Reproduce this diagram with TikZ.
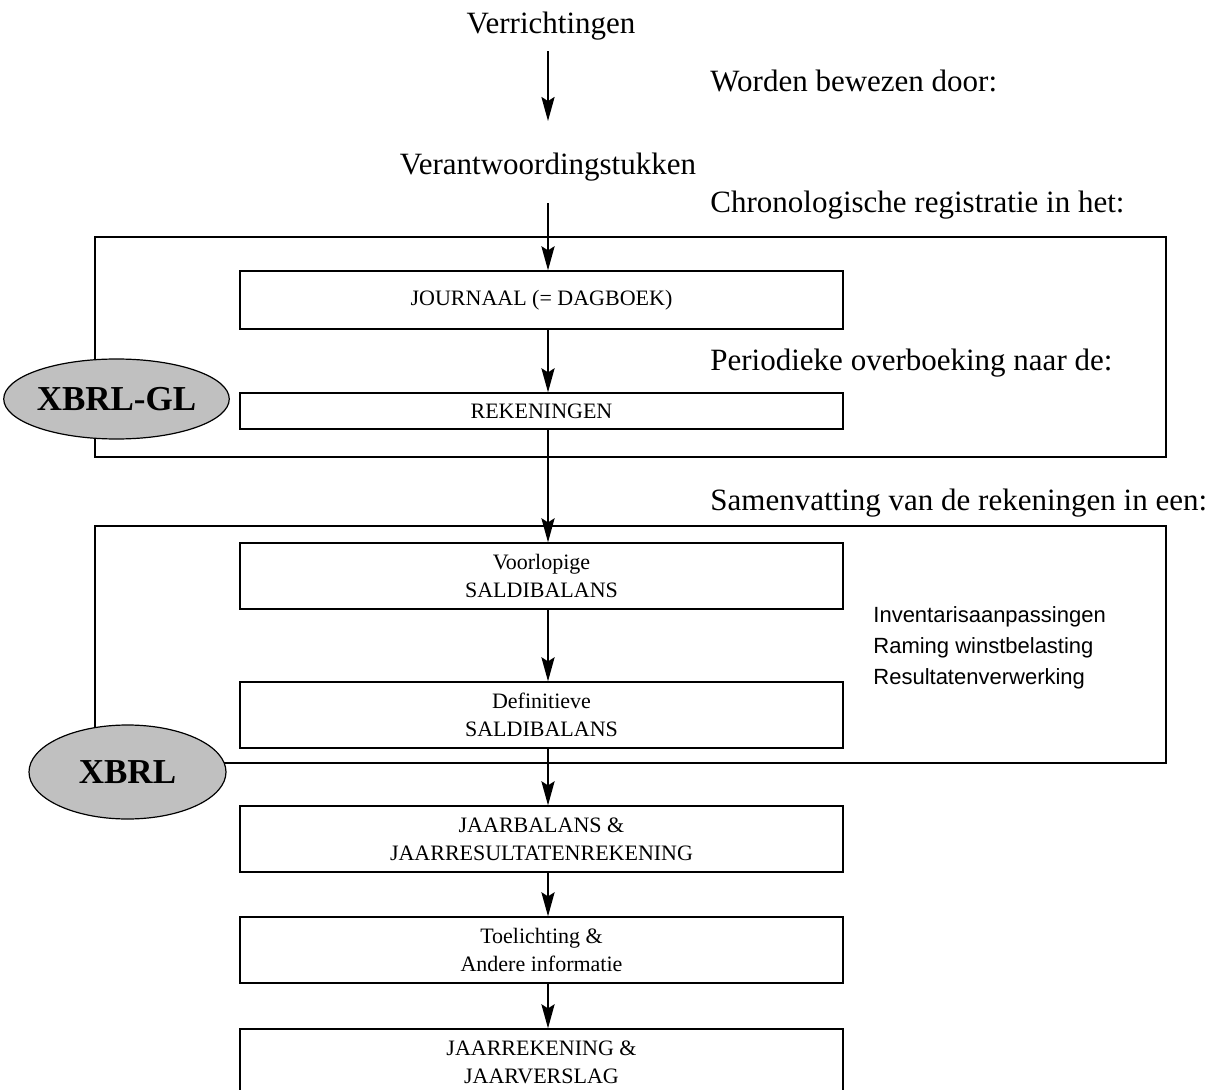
\documentclass[tikz,border=0pt]{standalone}
\usepackage{fontspec}
\setmainfont{Liberation Serif}
\newfontfamily\zijfont{Liberation Sans}
\usetikzlibrary{arrows.meta,shapes.geometric}

\definecolor{ovaalgrijs}{RGB}{192,192,192}

\begin{document}
\begin{tikzpicture}[x=0.5pt,y=-0.5pt,
  vak/.style={draw, line width=0.6pt, minimum width=301.5pt, inner sep=0pt,
    align=center, font=\fontsize{11}{14}\selectfont},
  tekst/.style={inner sep=0pt, anchor=base, font=\fontsize{15.5}{18}\selectfont},
  uitleg/.style={inner sep=0pt, anchor=base west, font=\fontsize{15.5}{18}\selectfont},
  pijl/.style={line width=1.4pt, -{Stealth[length=12pt,width=6.5pt,inset=2pt]}},
  kader/.style={line width=0.6pt},
  ovaal/.style={ellipse, draw, line width=0.6pt, fill=ovaalgrijs, inner sep=0pt,
    font=\fontsize{17.5}{20}\selectfont\bfseries}]

\useasboundingbox (0,0) rectangle (1208,1090);
\clip (0,0) rectangle (1208,1090);

% Top texts
\node[tekst] (verr) at (551,34) {Verrichtingen};
\node[tekst] (verant) at (548,175) {Verantwoordingstukken};

% Explanations on the right
\node[uitleg] (bewijs) at (710,92) {Worden bewezen door:};
\node[uitleg] (chrono) at (710,213) {Chronologische registratie in het:};
\node[uitleg] (period) at (710,371) {Periodieke overboeking naar de:};
\node[uitleg] (samen) at (710,510) {Samenvatting van de rekeningen in een:};

% Outer frames
\draw[kader] (95,237) rectangle (1166,457);
\draw[kader] (95,526) rectangle (1166,763);

% Boxes
\node[vak, minimum height=29pt] (journaal) at (541.5,300) {JOURNAAL (= DAGBOEK)};
\node[vak, minimum height=18pt] (rekeningen) at (541.5,411) {REKENINGEN};
\node[vak, minimum height=33pt] (voorlopig) at (541.5,576) {Voorlopige\\SALDIBALANS};
\node[vak, minimum height=33pt] (definitief) at (541.5,715) {Definitieve\\SALDIBALANS};
\node[vak, minimum height=33pt] (jaarbalans) at (541.5,839) {JAARBALANS \&\\JAARRESULTATENREKENING};
\node[vak, minimum height=33pt] (toelichting) at (541.5,950) {Toelichting \&\\Andere informatie};
\node[vak, minimum height=33pt] (jaarrekening) at (541.5,1062) {JAARREKENING \&\\JAARVERSLAG};

% Adjustments
\node[inner sep=0pt, anchor=north west, align=left,
  font=\zijfont\fontsize{11}{15.5}\selectfont] (aanpas) at (873,606)
  {Inventarisaanpassingen\\Raming winstbelasting\\Resultatenverwerking};

% Ovals
\node[ovaal, minimum width=109.5pt, minimum height=40pt] (xbrlgl) at (116.5,399) {XBRL-GL};
\node[ovaal, minimum width=98.5pt, minimum height=47pt] (xbrl) at (127.5,772) {XBRL};

% Arrows
\draw[pijl, shorten <=5pt, shorten >=16pt] (verr.south -| 548,0) -- (verant.north -| 548,0);
\draw[pijl, shorten <=10.5pt] (verant.south -| 548,0) -- (journaal.north -| 548,0);
\draw[pijl] (journaal.south -| 548,0) -- (rekeningen.north -| 548,0);
\draw[pijl] (rekeningen.south -| 548,0) -- (voorlopig.north -| 548,0);
\draw[pijl] (voorlopig.south -| 548,0) -- (definitief.north -| 548,0);
\draw[pijl] (definitief.south -| 548,0) -- (jaarbalans.north -| 548,0);
\draw[pijl] (jaarbalans.south -| 548,0) -- (toelichting.north -| 548,0);
\draw[pijl] (toelichting.south -| 548,0) -- (jaarrekening.north -| 548,0);

\end{tikzpicture}
\end{document}
